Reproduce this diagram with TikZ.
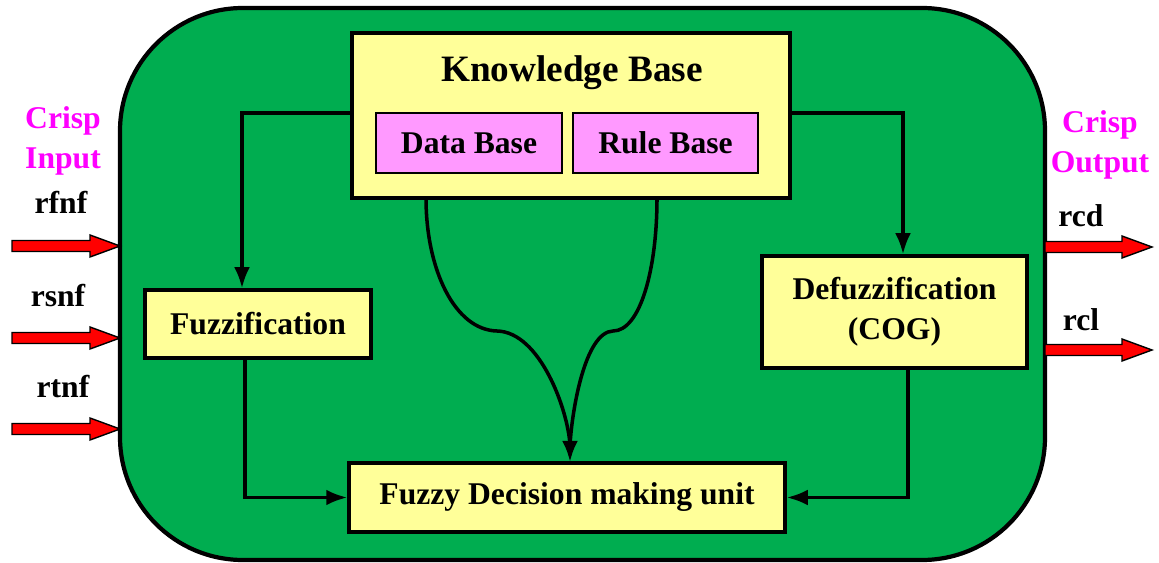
\documentclass[tikz,border=0pt]{standalone}
\usepackage{fontspec}
\setmainfont{Liberation Serif}
\usetikzlibrary{arrows.meta}
\definecolor{kbyellow}{HTML}{FFFF99}
\definecolor{kbpink}{HTML}{FF99FF}
\definecolor{kbgreen}{HTML}{00AD50}
\definecolor{crisp}{HTML}{FF00FF}
\begin{document}
\begin{tikzpicture}[x=0.02cm,y=-0.02cm,
  box/.style={draw=black,line width=1.9pt,fill=kbyellow,inner sep=0pt},
  pinkbox/.style={draw=black,line width=1.3pt,fill=kbpink,inner sep=0pt},
  lbl/.style={font=\bfseries\fontsize{18}{20}\selectfont},
  conn/.style={draw=black,line width=2pt,-{Latex[length=12pt,width=9pt]}},
  redarrow/.style={fill=red,draw=black,line width=0.8pt}]
\useasboundingbox (0,0) rectangle (1159,563);
% main container
\draw[fill=kbgreen,line width=2.4pt,rounded corners=70] (120,8) rectangle (1045,560);
% boxes
\node[box,minimum width=438*0.02cm,minimum height=165*0.02cm] (kb) at (571,115.5) {};
\node[lbl,font=\bfseries\fontsize{21.2}{24}\selectfont] (kbt) at (572,73) {Knowledge Base};
\node[pinkbox,lbl,minimum width=186*0.02cm,minimum height=60*0.02cm] (db) at (469,143) {\raisebox{-1.5pt}{Data Base}};
\node[pinkbox,lbl,minimum width=185*0.02cm,minimum height=60*0.02cm] (rb) at (665.5,143) {\raisebox{-1.5pt}{Rule Base}};
\node[box,lbl,minimum width=226*0.02cm,minimum height=68*0.02cm] (fz) at (258,324) {\raisebox{-1pt}{Fuzzification}};
\node[box,lbl,minimum width=265*0.02cm,minimum height=112*0.02cm,align=center] (dz) at (894.5,312) {Defuzzification\\[3pt](COG)};
\node[box,lbl,minimum width=436*0.02cm,minimum height=69*0.02cm] (fd) at (567,497.5) {\raisebox{-2pt}{Fuzzy Decision making unit}};
% connectors
\coordinate (kbl) at (352,113);
\coordinate (kbr) at (790,113);
\draw[conn] (kbl) -| (fz.north -| 242,0);
\draw[conn] (kbr) -| (dz.north -| 903,0);
\draw[conn] (fz.south -| 245,0) |- (fd.west);
\draw[conn] (dz.south -| 908,0) |- (fd.east);
\coordinate (cl) at (426,198);
\coordinate (cr) at (657,198);
\coordinate (ct) at (570,462);
\draw[line width=2pt] (cl) .. controls (426,270) and (455,330) .. (497,331)
  .. controls (540,332) and (568,410) .. (570,445);
\draw[line width=2pt] (cr) .. controls (657,270) and (640,331) .. (613,331)
  .. controls (585,332) and (572,410) .. (570,445);
\draw[-{Latex[length=12pt,width=9pt]},line width=2pt] (570,440) -- (ct);
% red arrows
\foreach \n/\xa/\xb/\yy in {a1/12/120/246, a2/12/120/338, a3/12/120/429, b1/1045/1152/247, b2/1045/1152/350}{
  \draw[redarrow] (\xa,\yy-5.5) -- (\xb-30,\yy-5.5) -- (\xb-30,\yy-11) -- (\xb,\yy) -- (\xb-30,\yy+11) -- (\xb-30,\yy+5.5) -- (\xa,\yy+5.5) -- cycle;
}
% labels
\node[lbl,text=crisp,align=center] (ci) at (63,141) {Crisp\\[3pt]Input};
\node[lbl] (l1) at (61,202) {rfnf};
\node[lbl] (l2) at (58,296) {rsnf};
\node[lbl] (l3) at (63,387) {rtnf};
\node[lbl,text=crisp,align=center] (co) at (1100,145) {Crisp\\[3pt]Output};
\node[lbl] (l4) at (1081,216) {rcd};
\node[lbl] (l5) at (1081,320) {rcl};
\end{tikzpicture}
\end{document}
